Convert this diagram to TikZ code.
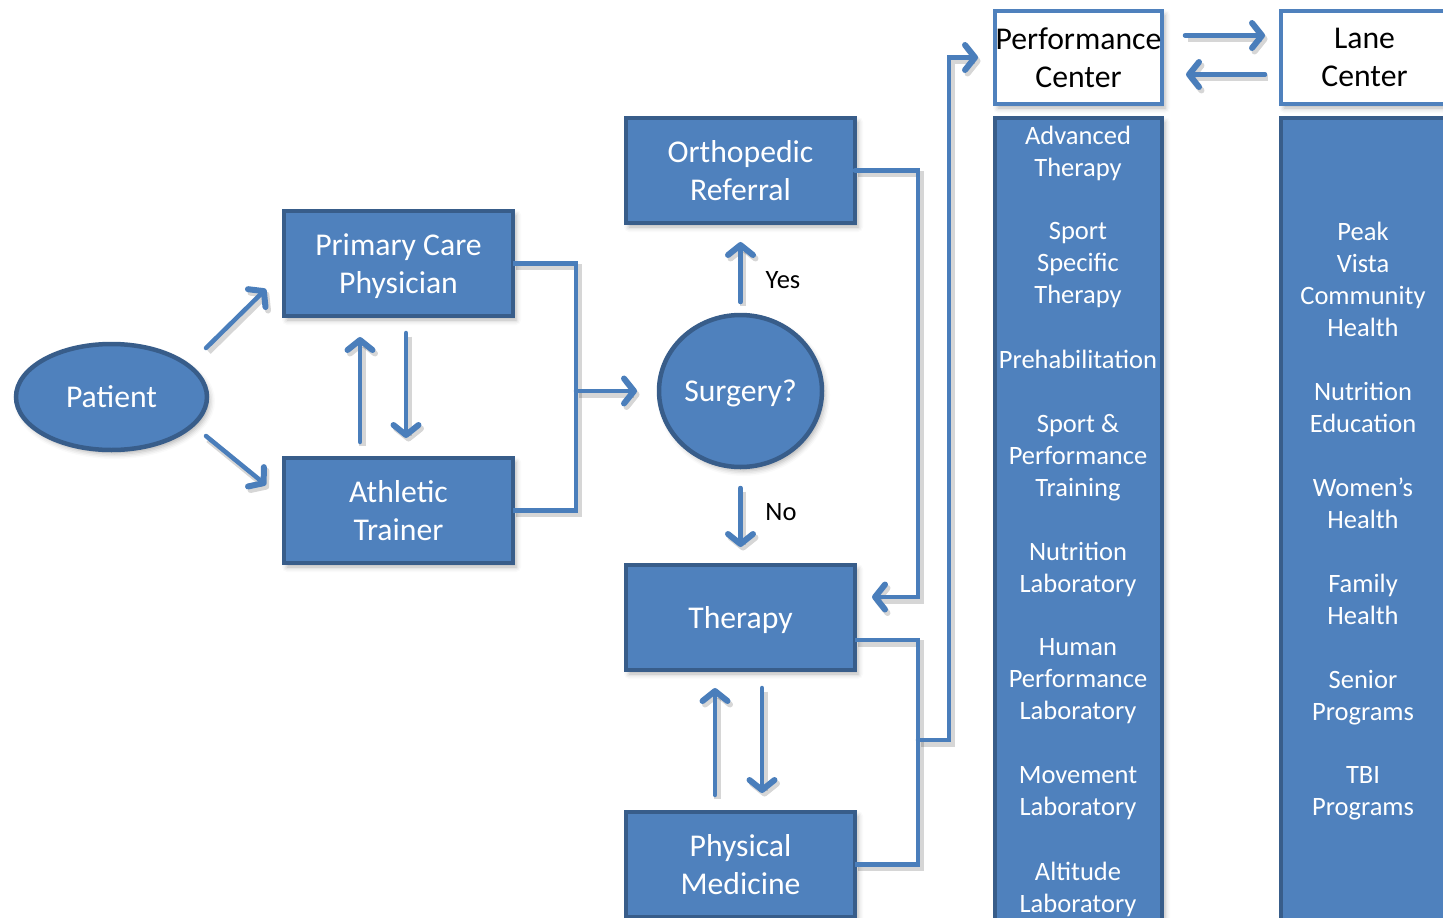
\documentclass[tikz,border=0pt]{standalone}
\usepackage{fontspec}
\setmainfont{Carlito}
\usetikzlibrary{arrows.meta,calc,shadows.blur,shapes.geometric}
\definecolor{fillblue}{HTML}{4F81BD}
\definecolor{edgeblue}{HTML}{385D8A}
\definecolor{linkblue}{HTML}{4A7EBB}
\begin{document}
\begin{tikzpicture}[x=1pt,y=-1pt,
  softshadow/.style={blur shadow={shadow xshift=3pt,shadow yshift=-4pt,shadow blur radius=5pt,shadow opacity=30}},
  bigtext/.style={font=\fontsize{31.7}{38}\selectfont},
  smalltext/.style={font=\fontsize{26.5}{32}\selectfont},
  box/.style={draw=edgeblue, fill=fillblue, line width=4.5pt, text=white, align=center,
    bigtext, text depth=0pt, minimum width=229pt, minimum height=105pt, inner sep=0pt, outer sep=0pt, softshadow},
  oval/.style={ellipse, draw=edgeblue, fill=fillblue, line width=4.5pt, text=white,
    bigtext, text depth=0pt, inner sep=0pt, outer sep=0pt, softshadow},
  header/.style={draw=fillblue, fill=white, line width=3.5pt, text=black, align=center,
    bigtext, text depth=0pt, minimum width=167pt, minimum height=93pt, inner sep=0pt, outer sep=0pt, softshadow},
  column/.style={draw=edgeblue, fill=fillblue, line width=4.5pt, minimum width=167pt,
    inner sep=0pt, outer sep=0pt, softshadow},
  coltext/.style={text=white, align=center, smalltext, text depth=0pt, inner sep=0pt},
  lbl/.style={text=black, smalltext, inner sep=0pt},
  linkshadow/.style={preaction={draw=black, opacity=0.16, line width=6.5pt,
    transform canvas={shift={(2.5pt,-3.5pt)}}}},
  conn/.style={draw=linkblue, line width=4.5pt, line join=miter, linkshadow},
  arr/.style={conn, line cap=round,
    -{Straight Barb[length=10pt,width=25pt,line width=6pt,line cap=round,line join=round]}},
]
\useasboundingbox (0,0) rectangle (1443,918);
\clip (0,0) rectangle (1443,918);

% left-hand chain
\node[oval, minimum width=191pt, minimum height=106pt] (pat) at (111.5,397) {Patient};
\node[box] (pcp) at (398.5,263.5) {Primary Care\\Physician};
\node[box] (at) at (398.5,510.5) {Athletic\\Trainer};
\node[box] (ortho) at (740.5,170.5) {Orthopedic\\Referral};
\node[oval, minimum width=163pt, minimum height=152pt] (surg) at (740.5,391) {Surgery?};
\node[box] (ther) at (740.5,617.5) {Therapy};
\node[box] (pm) at (740.5,864.5) {Physical\\Medicine};

% centre headers
\node[header] (pchead) at (1078.5,57.5) {Performance\\Center};
\node[header] (lanehead) at (1364.5,57.5) {Lane\\Center};

% service columns
\node[column, minimum height=830pt] (pccol) at (1078.5,533) {};
\node[column, minimum height=830pt] (lanecol) at (1364.5,533) {};

% Performance Center services
\node[coltext] (pc1) at (1078,151) {Advanced\\Therapy};
\node[coltext] (pc2) at (1078,263) {Sport\\Specific\\Therapy};
\node[coltext] (pc3) at (1078,359) {Prehabilitation};
\node[coltext] (pc4) at (1078,455) {Sport \&\\Performance\\Training};
\node[coltext] (pc5) at (1078,567) {Nutrition\\Laboratory};
\node[coltext] (pc6) at (1078,679) {Human\\Performance\\Laboratory};
\node[coltext] (pc7) at (1078,791) {Movement\\Laboratory};
\node[coltext] (pc8) at (1078,887) {Altitude\\Laboratory};

% Lane Center services
\node[coltext] (ln1) at (1363,279) {Peak\\Vista\\Community\\Health};
\node[coltext] (ln2) at (1363,407) {Nutrition\\Education};
\node[coltext] (ln3) at (1363,503) {Women’s\\Health};
\node[coltext] (ln4) at (1363,599) {Family\\Health};
\node[coltext] (ln5) at (1363,695) {Senior\\Programs};
\node[coltext] (ln6) at (1363,791) {TBI\\Programs};

% patient entry arrows
\draw[arr] ($(pat.east)+(-1,-49)$) -- ($(pcp.west)+(-18,25.5)$);
\draw[arr] ($(pat.east)+(-1,39)$) -- ($(at.west)+(-18,-25.5)$);

% primary care <-> athletic trainer
\draw[arr] ($(at.north)+(-38.5,-16)$) -- ($(pcp.south)+(-38.5,21)$);
\draw[arr] ($(pcp.south)+(7.5,17)$) -- ($(at.north)+(7.5,-20)$);

% both feed the surgery decision
\draw[conn] (pcp.east) -- ++(63,0) |- (at.east);
\draw[arr] ($(surg.west)+(-83,0)$) -- ($(surg.west)+(-22,0)$);

% decision outcomes
\draw[arr] ($(surg.north)+(0,-13)$) -- ($(ortho.south)+(0,19)$);
\node[lbl] (yes) at (783,280) {Yes};
\draw[arr] ($(surg.south)+(0,21)$) -- ($(ther.north)+(0,-18)$);
\node[lbl] (no) at (781,512) {No};

% orthopedic referral back to therapy
\draw[arr] (ortho.east) -- ++(63,0) |- ($(ther.east)+(17,-20.5)$);

% therapy <-> physical medicine
\draw[arr] ($(pm.north)+(-25.5,-17)$) -- ($(ther.south)+(-25.5,18)$);
\draw[arr] ($(ther.south)+(21.5,18)$) -- ($(pm.north)+(21.5,-19)$);

% therapy and physical medicine lead on to the Performance Center
\draw[conn] ($(ther.east)+(0,22.5)$) -- ++(63,0) |- (pm.east);
\coordinate (j) at ($(ther.east)+(63,122.5)$);
\draw[arr] (j) -- ++(31,0) |- ($(pchead.west)+(-17,0)$);

% links between the two centres
\draw[arr] ($(pchead.east)+(23,-22)$) -- ($(lanehead.west)+(-16,-22)$);
\draw[arr] ($(lanehead.west)+(-16,17)$) -- ($(pchead.east)+(24,17)$);
\end{tikzpicture}
\end{document}
